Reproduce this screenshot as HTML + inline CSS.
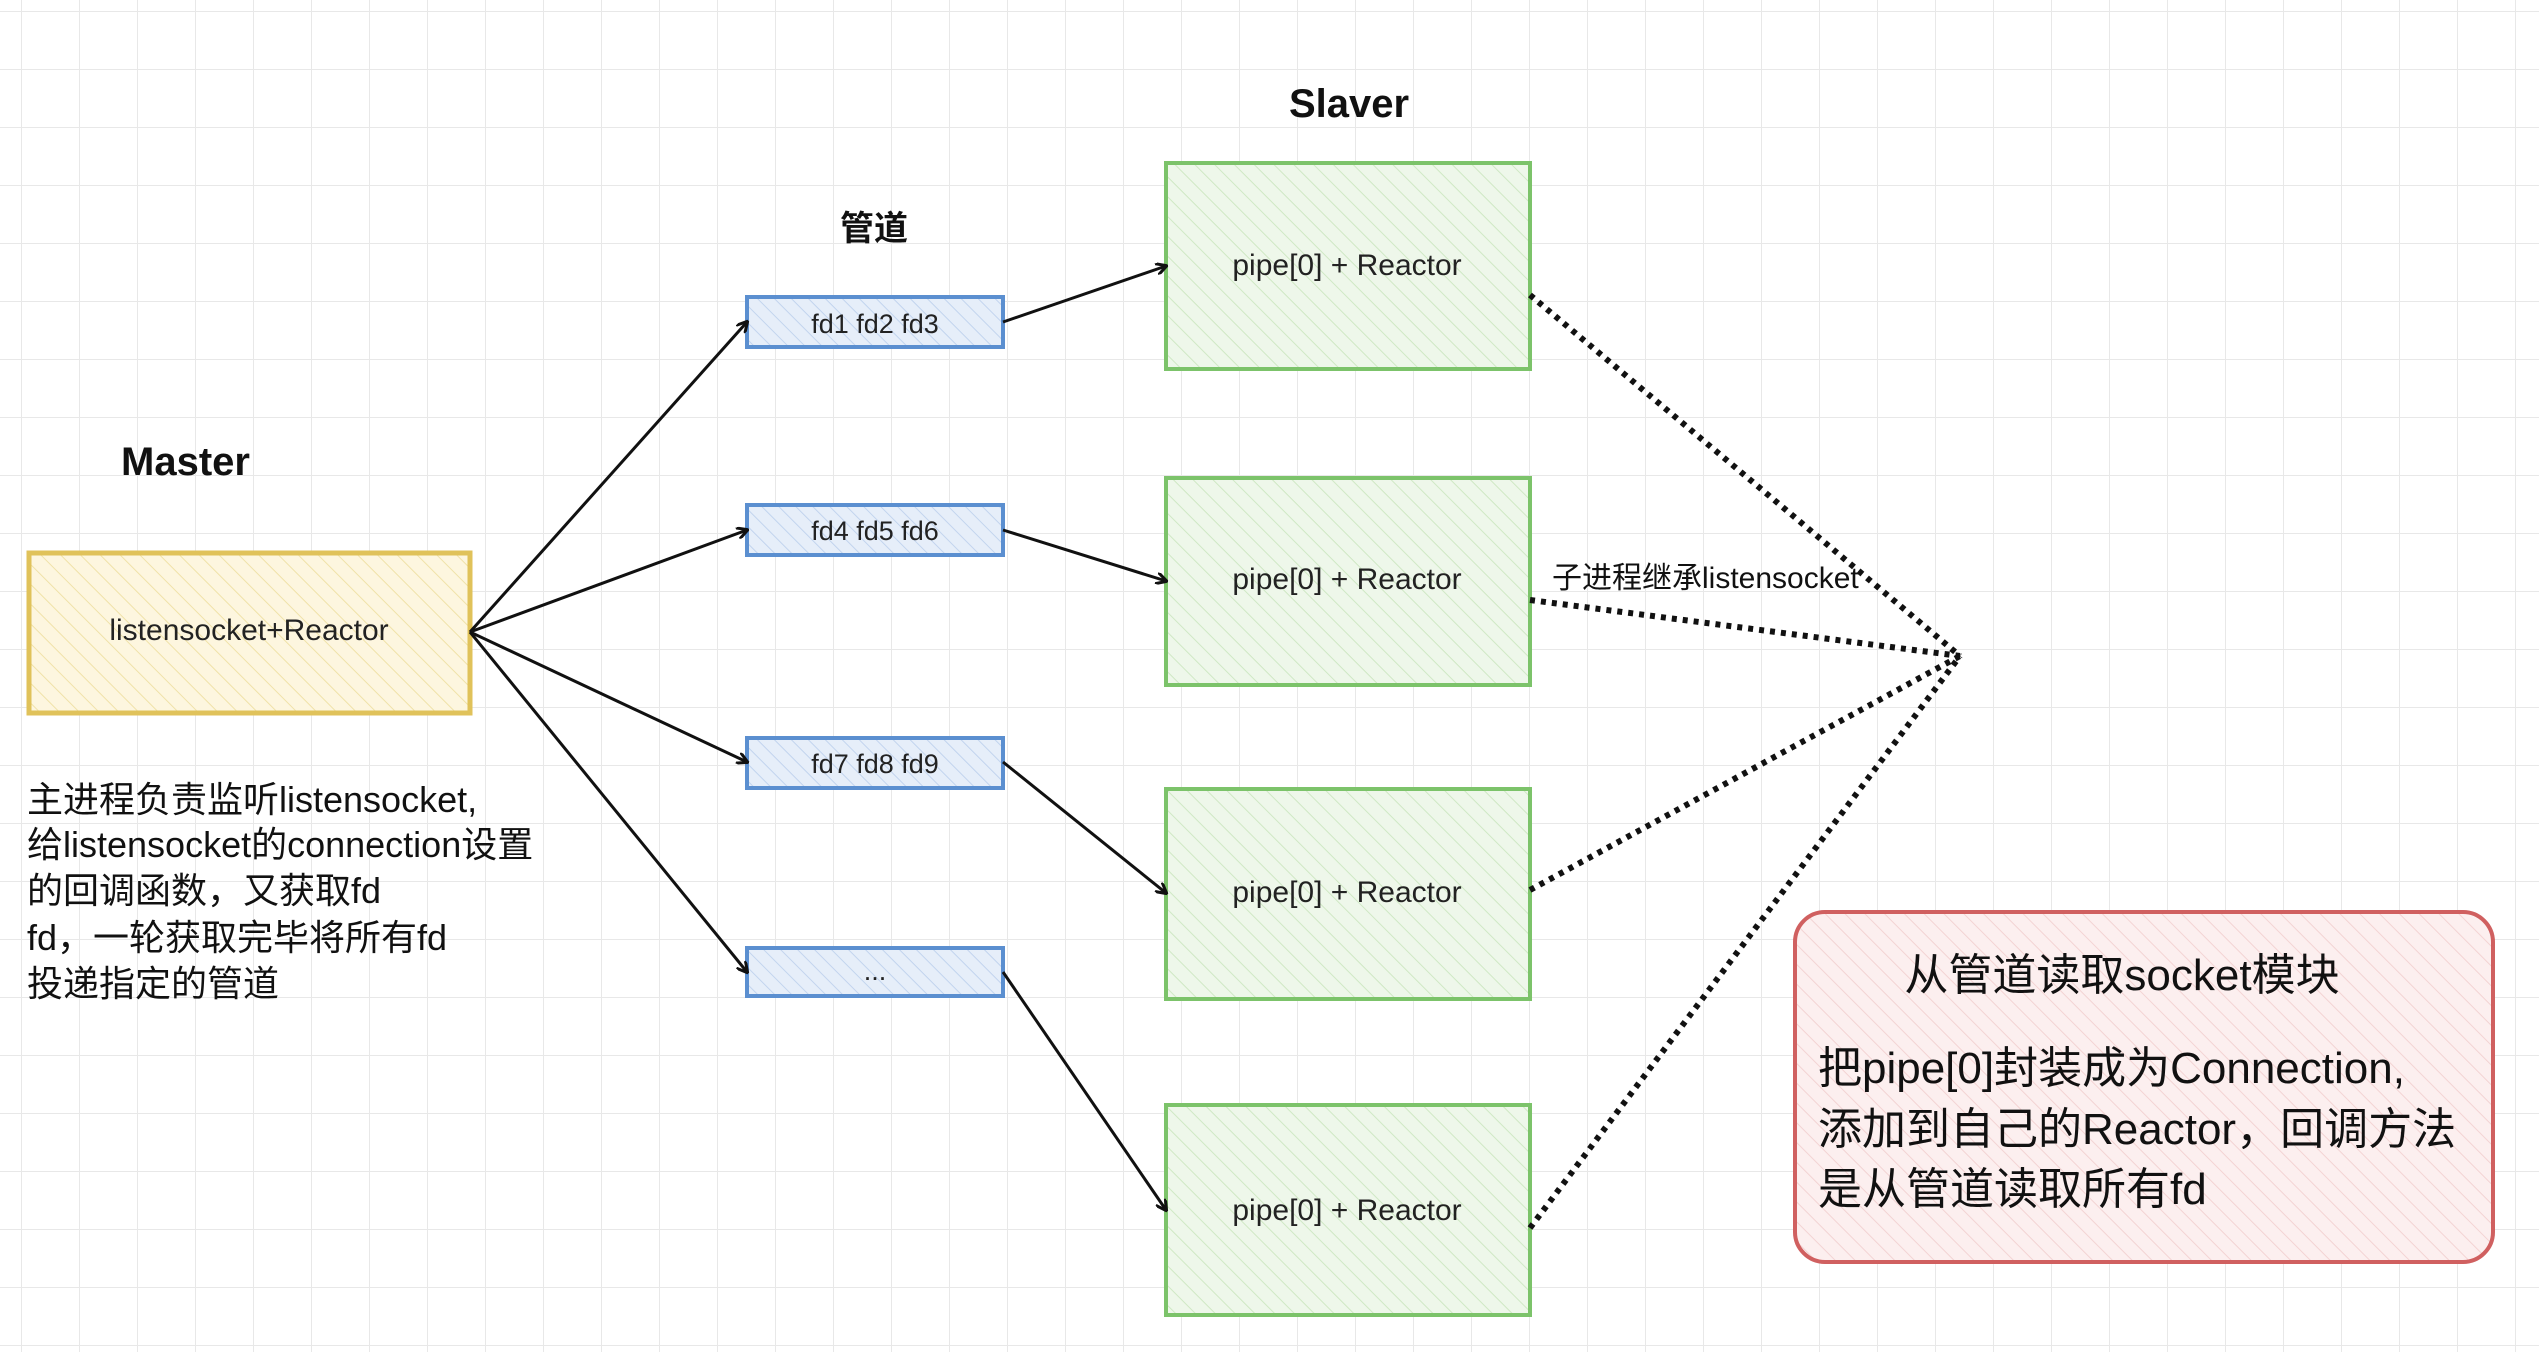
<!DOCTYPE html>
<html><head><meta charset="utf-8"><style>
html,body{margin:0;padding:0;background:#fff}
svg{display:block}
text{font-family:"Liberation Sans","Noto Sans CJK SC",sans-serif}
</style></head><body>
<svg width="2539" height="1352" viewBox="0 0 2539 1352" xmlns="http://www.w3.org/2000/svg">
<defs>
<pattern id="grid" width="58" height="58" patternUnits="userSpaceOnUse" x="22" y="12">
<path d="M58 0V58M0 58H58" stroke="#e8e8e8" stroke-width="2" fill="none"/>
</pattern>
<pattern id="hy" width="14" height="14" patternUnits="userSpaceOnUse" patternTransform="rotate(-45)">
<rect width="14" height="14" fill="#fdf6df"/><line x1="0" y1="0" x2="0" y2="14" stroke="#f0e2a8" stroke-width="2"/></pattern>
<pattern id="hb" width="12" height="12" patternUnits="userSpaceOnUse" patternTransform="rotate(-45)">
<rect width="12" height="12" fill="#e6eef9"/><line x1="0" y1="0" x2="0" y2="12" stroke="#c2d4ee" stroke-width="2"/></pattern>
<pattern id="hg" width="14" height="14" patternUnits="userSpaceOnUse" patternTransform="rotate(-45)">
<rect width="14" height="14" fill="#eef7ea"/><line x1="0" y1="0" x2="0" y2="14" stroke="#cfe8c4" stroke-width="2"/></pattern>
<pattern id="hr" width="14" height="14" patternUnits="userSpaceOnUse" patternTransform="rotate(-45)">
<rect width="14" height="14" fill="#fcefef"/><line x1="0" y1="0" x2="0" y2="14" stroke="#f3d3d3" stroke-width="2"/></pattern>
<marker id="ar" markerWidth="12" markerHeight="12" refX="10" refY="6" orient="auto" markerUnits="userSpaceOnUse">
<path d="M0 0L11 6L0 12" fill="none" stroke="#111" stroke-width="3"/></marker>
</defs>
<rect width="2539" height="1352" fill="#fff"/>
<rect width="2539" height="1352" fill="url(#grid)"/>

<!-- Master -->
<text x="121" y="475" font-size="40" font-weight="bold" fill="#111">Master</text>
<rect x="29" y="553" width="441" height="160" fill="url(#hy)" stroke="#e0c25a" stroke-width="5"/>
<text x="249" y="640" font-size="30" text-anchor="middle" fill="#222">listensocket+Reactor</text>
<g font-size="36" fill="#111">
<text x="27" y="812">主进程负责监听listensocket,</text>
<text x="27" y="857">给listensocket的connection设置</text>
<text x="27" y="903">的回调函数，又获取fd</text>
<text x="27" y="950">fd，一轮获取完毕将所有fd</text>
<text x="27" y="996">投递指定的管道</text>
</g>

<!-- pipes -->
<text x="874" y="240" font-size="34" font-weight="bold" text-anchor="middle" fill="#111">管道</text>
<g stroke="#5b8fd0" stroke-width="4" fill="url(#hb)">
<rect x="747" y="297" width="256" height="50"/>
<rect x="747" y="505" width="256" height="50"/>
<rect x="747" y="738" width="256" height="50"/>
<rect x="747" y="948" width="256" height="48"/>
</g>
<g font-size="27" fill="#222" text-anchor="middle">
<text x="875" y="333">fd1 fd2 fd3</text>
<text x="875" y="540">fd4 fd5 fd6</text>
<text x="875" y="773">fd7 fd8 fd9</text>
<text x="875" y="980">...</text>
</g>

<!-- Slaver -->
<text x="1349" y="117" font-size="40" font-weight="bold" text-anchor="middle" fill="#111">Slaver</text>
<g stroke="#7cc36a" stroke-width="4" fill="url(#hg)">
<rect x="1166" y="163" width="364" height="206"/>
<rect x="1166" y="478" width="364" height="207"/>
<rect x="1166" y="789" width="364" height="210"/>
<rect x="1166" y="1105" width="364" height="210"/>
</g>
<g font-size="30" fill="#222" text-anchor="middle">
<text x="1347" y="275">pipe[0] + Reactor</text>
<text x="1347" y="589">pipe[0] + Reactor</text>
<text x="1347" y="902">pipe[0] + Reactor</text>
<text x="1347" y="1220">pipe[0] + Reactor</text>
</g>

<!-- arrows -->
<g stroke="#111" stroke-width="3" fill="none" marker-end="url(#ar)">
<path d="M470 632L747 322"/>
<path d="M470 632L747 530"/>
<path d="M470 632L747 762"/>
<path d="M470 632L747 972"/>
<path d="M1003 322L1166 266"/>
<path d="M1003 530L1166 581"/>
<path d="M1003 762L1166 893"/>
<path d="M1003 972L1166 1210"/>
</g>
<!-- dotted -->
<g stroke="#111" stroke-width="6" stroke-dasharray="5 6" fill="none">
<path d="M1530 295L1960 656"/>
<path d="M1530 600L1960 656"/>
<path d="M1530 890L1960 656"/>
<path d="M1530 1228L1960 656"/>
</g>
<text x="1552" y="588" font-size="30" fill="#111">子进程继承listensocket</text>

<!-- red box -->
<rect x="1795" y="912" width="698" height="350" rx="30" fill="url(#hr)" stroke="#d06060" stroke-width="4"/>
<g font-size="44" fill="#111">
<text x="2122" y="990" text-anchor="middle">从管道读取socket模块</text>
<text x="1818" y="1083">把pipe[0]封装成为Connection,</text>
<text x="1818" y="1144">添加到自己的Reactor，回调方法</text>
<text x="1818" y="1204">是从管道读取所有fd</text>
</g>
</svg>
</body></html>
